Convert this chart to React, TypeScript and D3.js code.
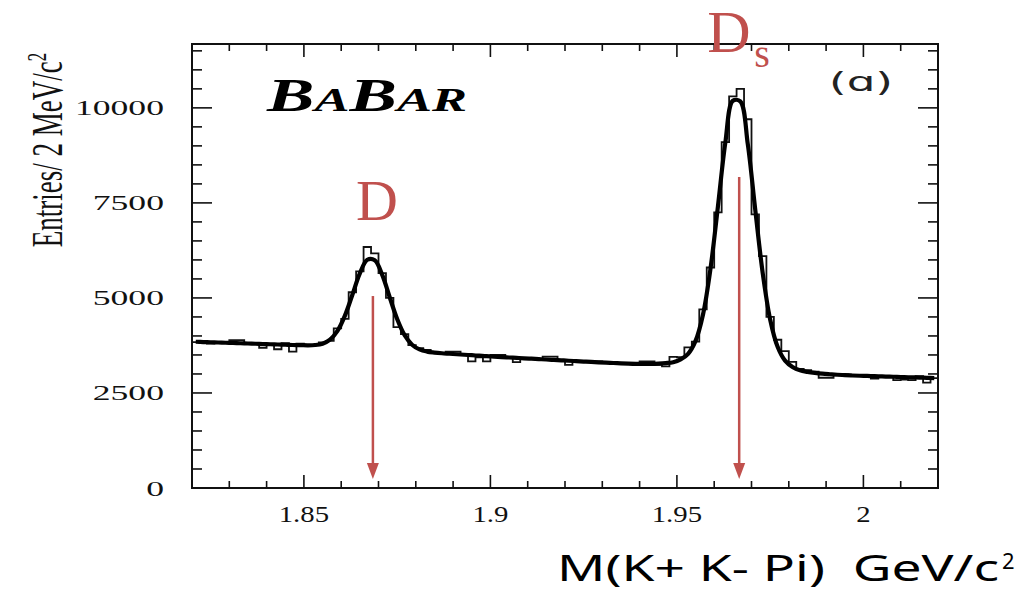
import * as React from "react";
import { range, scaleLinear, line, curveStepAfter, curveCatmullRom } from "d3";

// histogram binning (2 MeV bins)
const binStart = 1.82;
const binWidth = 0.002;

// entries per bin
const counts = [
  3840, 3820, 3800, 3830, 3820, 3890, 3890, 3800, 3790, 3690,
  3780, 3650, 3810, 3590, 3800, 3750, 3760, 3830, 3870, 4200,
  4450, 5150, 5700, 6340, 6170, 5650, 5000, 4230, 4050, 3760,
  3680, 3630, 3560, 3545, 3590, 3590, 3510, 3330, 3440, 3330,
  3500, 3500, 3430, 3310, 3400, 3390, 3390, 3455, 3455, 3360,
  3240, 3340, 3330, 3310, 3330, 3300, 3290, 3280, 3270, 3265,
  3330, 3330, 3240, 3200, 3450, 3440, 3700, 3850, 4700, 5800,
  7250, 9100, 10300, 10500, 9700, 7200, 6100, 4500, 3900, 3600,
  3320, 3130, 3100, 3060, 2900, 2900, 3000, 2990, 2960, 2950,
  2950, 2880, 2940, 2930, 2840, 2850, 2840, 2940, 2770, 2890,
];

// fitted curve at the bin centres
const fitValues = [
  3847, 3840, 3834, 3827, 3821, 3814, 3808, 3801, 3795, 3788,
  3782, 3775, 3769, 3762, 3760, 3754, 3761, 3797, 3903, 4133,
  4536, 5084, 5646, 6004, 5991, 5607, 5019, 4445, 4020, 3770,
  3645, 3589, 3563, 3545, 3532, 3519, 3506, 3493, 3480, 3467,
  3455, 3444, 3433, 3423, 3412, 3401, 3391, 3380, 3369, 3359,
  3348, 3337, 3327, 3316, 3305, 3296, 3288, 3280, 3272, 3267,
  3267, 3267, 3273, 3286, 3310, 3383, 3530, 3870, 4566, 5766,
  7405, 9096, 10187, 10171, 9048, 7325, 5658, 4434, 3714, 3350,
  3183, 3095, 3056, 3028, 3007, 2992, 2979, 2969, 2960, 2953,
  2947, 2941, 2935, 2929, 2923, 2917, 2911, 2905, 2899, 2893,
];

const xTicks = [1.85, 1.9, 1.95, 2];
const xTickLabels = ["1.85", "1.9", "1.95", "2"];
const yTicks = [0, 2500, 5000, 7500, 10000];

// peak annotations
const peakNames = ["D", "Ds"];
const peakMasses = [1.8685, 1.9667];
const arrowTops = [5050, 8180];

const red = "#c0504d";

export default function App() {
  const W = 1023;
  const H = 593;
  const left = 192, right = 938, top = 44, bottom = 488;

  const x = scaleLinear().domain([1.82, 2.02]).range([left, right]);
  const y = scaleLinear().domain([0, 11680]).range([bottom, top]);

  const edges = range(counts.length + 1).map((i) => binStart + i * binWidth);
  const histPts: [number, number][] = edges.map((e, i) => [
    x(e),
    y(counts[Math.min(i, counts.length - 1)]),
  ]);
  const histPath = line().curve(curveStepAfter)(histPts);

  const fitPts: [number, number][] = fitValues.map((v, i) => [
    x(binStart + (i + 0.5) * binWidth),
    y(v),
  ]);
  const fitPath = line().curve(curveCatmullRom)(fitPts);

  const xMinor = range(21).map((k) => 1.82 + k * 0.01);
  const yMinor = range(0, 11680, 500);
  const isMajorX = (v: number) => Math.abs(v * 20 - Math.round(v * 20)) < 1e-6;

  const serif = "'Liberation Serif', 'Times New Roman', serif";
  const sans = "'Noto Sans', sans-serif";

  return (
    <div style={{ position: "fixed", left: 0, top: 0 }}>
      <svg width={W} height={H} style={{ display: "block", background: "white" }}>
        {/* frame */}
        <rect x={left} y={top} width={right - left} height={bottom - top}
          fill="none" stroke="#111" strokeWidth={2} />

        {/* x ticks, bottom and top */}
        {xMinor.map((v, i) => {
          const len = isMajorX(v) ? 13 : 7;
          return (
            <g key={"xt" + i} stroke="#111" strokeWidth={1.6}>
              <line x1={x(v)} x2={x(v)} y1={bottom} y2={bottom - len} />
              <line x1={x(v)} x2={x(v)} y1={top} y2={top + len} />
            </g>
          );
        })}

        {/* y ticks, left and right */}
        {yMinor.map((v, i) => {
          const len = v % 2500 === 0 ? 20 : 10;
          return (
            <g key={"yt" + i} stroke="#111" strokeWidth={1.6}>
              <line x1={left} x2={left + len} y1={y(v)} y2={y(v)} />
              <line x1={right} x2={right - len} y1={y(v)} y2={y(v)} />
            </g>
          );
        })}

        {/* tick labels */}
        {xTicks.map((v, i) => (
          <text key={"xl" + i} transform={`translate(${x(v)},522) scale(1.25,1)`}
            textAnchor="middle" fontFamily={serif} fontSize={23} fill="#111">
            {xTickLabels[i]}
          </text>
        ))}
        {yTicks.map((v) => (
          <text key={"yl" + v} transform={`translate(164,${y(v) + 7.5}) scale(1.62,1)`}
            textAnchor="end" fontFamily={serif} fontSize={22} fill="#111">
            {v}
          </text>
        ))}

        {/* y axis title */}
        <text transform="translate(62,150) scale(1.65,1) rotate(-90)" textAnchor="middle"
          fontFamily={serif} fontSize={27} fill="#111">
          Entries/ 2 MeV/c
          <tspan dy={-10} fontSize={17}>2</tspan>
        </text>

        {/* histogram and fit */}
        <path d={histPath} fill="none" stroke="#111" strokeWidth={1.8} />
        <path d={fitPath} fill="none" stroke="#000" strokeWidth={4.2} strokeLinejoin="round" />

        {/* experiment logo and panel tag */}
        <text x={267} y={111} textLength={200} lengthAdjust="spacingAndGlyphs"
          fontFamily={serif} fontStyle="italic" fontWeight="bold" fill="#000">
          <tspan fontSize={46}>B</tspan>
          <tspan fontSize={34}>A</tspan>
          <tspan fontSize={46}>B</tspan>
          <tspan fontSize={34}>AR</tspan>
        </text>
        <text x={829} y={91} textLength={64} lengthAdjust="spacingAndGlyphs"
          fontFamily="'DejaVu Sans', sans-serif" fontSize={26} fill="#222">
          (ɑ)
        </text>

        {/* peak arrows */}
        {peakMasses.map((m, i) => {
          const px = x(m);
          const tip = y(240);
          return (
            <g key={"ar" + i}>
              <line x1={px} x2={px} y1={y(arrowTops[i])} y2={tip - 12}
                stroke={red} strokeWidth={2.5} />
              <polygon points={`${px - 6},${tip - 16} ${px + 6},${tip - 16} ${px},${tip}`} fill={red} />
            </g>
          );
        })}

        {/* peak labels */}
        <text x={x(peakMasses[0]) + 4} y={220} textAnchor="middle"
          fontFamily={serif} fontSize={58} fill={red}>
          {peakNames[0]}
        </text>
        <text x={x(peakMasses[1]) - 32} y={52} fontFamily={serif} fontSize={60} fill={red}>
          {peakNames[1].charAt(0)}
          <tspan x={x(peakMasses[1]) + 15} y={67} fontSize={40}>{peakNames[1].slice(1)}</tspan>
        </text>

        {/* x axis title */}
        <text x={557} y={581} textLength={442} lengthAdjust="spacingAndGlyphs"
          fontFamily={sans} fontSize={36} fill="#000">
          {"M(K+\u00a0K-\u00a0Pi)\u00a0\u00a0GeV/c"}
        </text>
        <text x={1002} y={569} fontFamily={sans} fontSize={22} fill="#000">2</text>
      </svg>
    </div>
  );
}
